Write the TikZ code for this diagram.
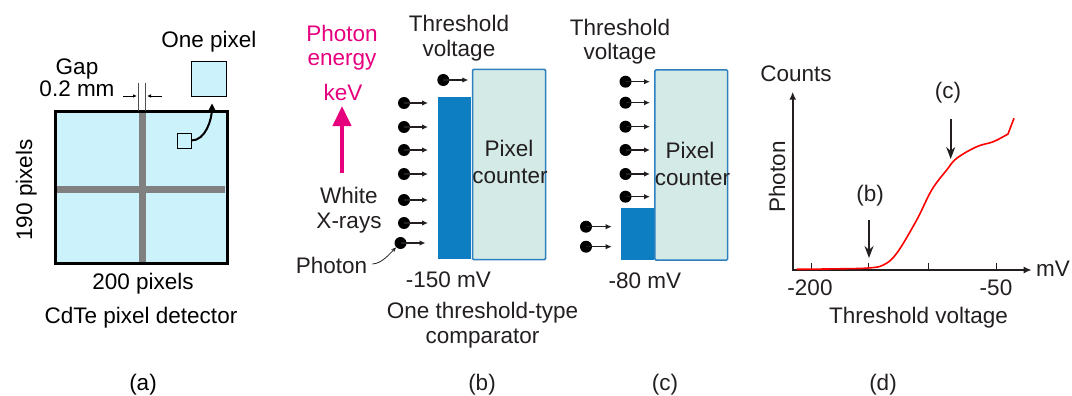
\documentclass[tikz,border=0pt]{standalone}
\usepackage{fontspec}
\setmainfont{Liberation Sans}
\usetikzlibrary{arrows.meta}
\definecolor{detcyan}{RGB}{204,242,252}
\definecolor{gapgray}{RGB}{128,128,128}
\definecolor{cmpblue}{RGB}{14,126,194}
\definecolor{cntfill}{RGB}{212,234,230}
\definecolor{cntedge}{RGB}{46,128,192}
\definecolor{kevpink}{RGB}{230,0,126}
\definecolor{ink}{RGB}{35,31,32}
\begin{document}
\begin{tikzpicture}[x=1pt,y=-1pt,font=\fontsize{22.5}{26}\selectfont,
  lbl/.style={anchor=base,inner sep=0},
  photon/.style={circle,fill=black,inner sep=0,minimum size=12pt},
  ray/.style={-{Latex[length=6pt,width=5.5pt]},line width=1.3pt},
  counterbox/.style={draw=cntedge,fill=cntfill,line width=1.5pt,rounded corners=1pt,inner sep=0},
  pointer/.style={-{Stealth[length=12pt,width=9pt]},line width=1.6pt}]
\useasboundingbox (0,0) rectangle (1072,396);
% (a) detector
\node[draw,fill=detcyan,line width=3pt,minimum width=172pt,minimum height=151pt,inner sep=0] (det) at (141,187.5) {};
\fill[gapgray] (138.5,113.5) rectangle (145.5,261.5);
\fill[gapgray] (56.5,186) rectangle (224.5,193);
\draw[gapgray!60!black,line width=0.8pt] (138.5,83) -- (138.5,111) (145.5,83) -- (145.5,111);
\coordinate (gl) at (137,96);
\coordinate (gr) at (147,96);
\draw[-{Latex[length=4pt,width=3.5pt]},line width=0.8pt] ([xshift=-14pt]gl) -- (gl);
\draw[-{Latex[length=4pt,width=3.5pt]},line width=0.8pt] ([xshift=15pt]gr) -- (gr);
\node[lbl] (gap) at (77,75) {Gap};
\node[lbl] (gapw) at (77,97) {0.2 mm};
\node[draw,fill=detcyan,line width=1pt,minimum size=35pt,inner sep=0] (pix) at (209,79.5) {};
\node[lbl] (pixl) at (209,48) {One pixel};
\node[draw,line width=1pt,minimum width=14pt,minimum height=15pt,inner sep=0] (cell) at (184,140.5) {};
\draw[-{Stealth[length=8pt,width=8pt]},line width=2pt] (cell.east) .. controls +(14,0) and +(0,16) .. ([shift={(3,6)}]pix.south);
\node[lbl,rotate=90] (ny) at (32,190) {190 pixels};
\node[lbl] (nx) at (143,289) {200 pixels};
\node[lbl] (detl) at (141,323) {CdTe pixel detector};
\node[lbl] (capa) at (143,390) {(a)};
% (b) threshold -150 mV
\begin{scope}[color=ink]
\node[lbl,text=kevpink] (pe1) at (342,42) {Photon};
\node[lbl,text=kevpink] (pe2) at (342,66) {energy};
\node[lbl,text=kevpink] (pe3) at (343,100) {keV};
\coordinate (e0) at (342,173);
\coordinate (e1) at (342,106);
\draw[kevpink,-{Triangle[length=20pt,width=18pt]},line width=4pt] (e0) -- (e1);
\node[lbl] (wx1) at (349,203) {White};
\node[lbl] (wx2) at (349,228) {X-rays};
\node[lbl] (thb1) at (459,32) {Threshold};
\node[lbl] (thb2) at (459,57) {voltage};
\fill[cmpblue] (438.3,96.7) rectangle (471,259.3);
\node[counterbox,minimum width=73pt,minimum height=190pt] (cntb) at (509,164.5) {};
\node[lbl] (cb1) at (509,157) {Pixel};
\node[lbl] (cb2) at (510,183) {counter};
\foreach \y [count=\i] in {103,127,150,174,200,223}
  {\node[photon] (pb\i) at (404,\y) {};
   \draw[ray] (pb\i.center) -- +(24,0);}
\node[photon] (pb7) at (400.5,243) {};
\draw[ray] (pb7.center) -- +(25,0);
\node[photon] (pb0) at (443.3,80) {};
\draw[ray] (pb0.center) -- +(25,0);
\node[lbl] (phl) at (331.5,273) {Photon};
\draw[-{Stealth[length=5pt,width=4pt]},line width=0.8pt] ([xshift=5pt,yshift=1pt]phl.east) .. controls +(9,0) and +(-6,6) .. (pb7.south west);
\node[lbl] (vb) at (448.5,287) {-150 mV};
\node[lbl] (cmp1) at (482.5,318) {One threshold-type};
\node[lbl] (cmp2) at (482.5,343) {comparator};
\node[lbl] (capb) at (482,390) {(b)};
% (c) threshold -80 mV
\node[lbl] (thc1) at (620,36) {Threshold};
\node[lbl] (thc2) at (620,60) {voltage};
\fill[cmpblue] (621,208.3) rectangle (654.3,260);
\node[counterbox,minimum width=72.7pt,minimum height=190pt] (cntc) at (691.3,165) {};
\node[lbl] (cc1) at (690,158) {Pixel};
\node[lbl] (cc2) at (692.5,185) {counter};
\foreach \y [count=\i] in {81.7,102.7,126.7,150,174,196.7}
  {\node[photon] (pc\i) at (625.5,\y) {};
   \draw[ray] (pc\i.center) -- +(24.5,0);}
\foreach \y [count=\i] in {226.7,246.7}
  {\node[photon] (pl\i) at (586,\y) {};
   \draw[ray] (pl\i.center) -- +(25.7,0);}
\node[lbl] (vc) at (645,288) {-80 mV};
\node[lbl] (capc) at (665,390) {(c)};
% (d) counts vs threshold
\coordinate (org) at (792.7,270);
\coordinate (ytop) at (792.7,91.7);
\coordinate (xend) at (1031.7,270);
\draw[-{Latex[length=8pt,width=7pt]},line width=2pt] (org) -- (ytop);
\draw[-{Latex[length=8pt,width=7pt]},line width=2pt] ([xshift=-1pt]org) -- (xend);
\foreach \x in {811.7,868.3,928.3,996}
  \draw[line width=0.8pt] (\x,262.7) -- (\x,270);
\draw[red,line width=1.6pt] plot[smooth,tension=0.6] coordinates {(796.7,269.3) (840,268.8) (868.3,268) (883.3,265) (896.7,253.3) (916.7,220) (931.7,190) (946.7,170) (956.7,158.3) (976.7,146.7) (993.3,141.7) (1008,134)} -- (1014,118.3);
\node[lbl] (yl) at (796,82) {Counts};
\node[lbl,rotate=90] (yl2) at (785,177) {Photon};
\node[lbl] (xu) at (1053,276) {mV};
\node[lbl] (t200) at (810,295) {-200};
\node[lbl] (t50) at (996,295) {-50};
\node[lbl] (xl) at (918.5,323) {Threshold voltage};
\node[lbl] (db) at (870,201) {(b)};
\node[lbl] (dc) at (948,99) {(c)};
\coordinate (bt) at (869,220);
\coordinate (bh) at (869,258);
\coordinate (ct) at (950.7,119);
\coordinate (ch) at (950.7,159);
\draw[pointer] (bt) -- (bh);
\draw[pointer] (ct) -- (ch);
\node[lbl] (capd) at (883,390) {(d)};
\end{scope}
\end{tikzpicture}
\end{document}
